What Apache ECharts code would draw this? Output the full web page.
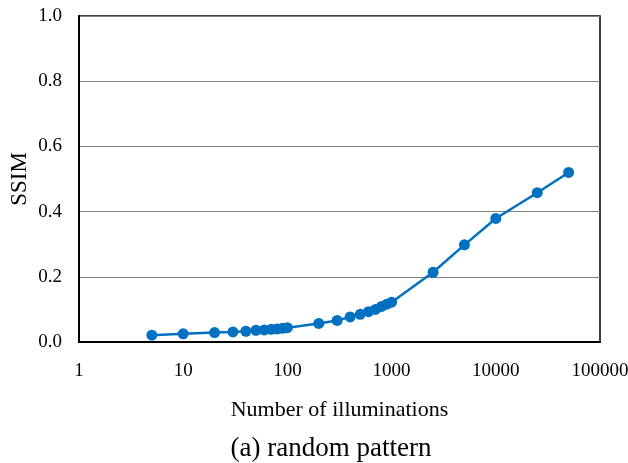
<!DOCTYPE html>
<html>
<head>
<meta charset="utf-8">
<script src="https://cdn.jsdelivr.net/npm/echarts@6/dist/echarts.min.js"></script>
<style>
html,body{margin:0;padding:0;background:#fff;}
#chart{width:628px;height:463px;}
</style>
</head>
<body>
<div id="chart"></div>
<script>
const illuminations = [5, 10, 20, 30, 40, 50, 60, 70, 80, 90, 100, 200, 300, 400, 500, 600, 700, 800, 900, 1000, 2500, 5000, 10000, 25000, 50000];
const ssim = [0.021, 0.025, 0.029, 0.031, 0.033, 0.036, 0.037, 0.039, 0.040, 0.042, 0.044, 0.057, 0.066, 0.077, 0.085, 0.093, 0.100, 0.109, 0.116, 0.122, 0.214, 0.298, 0.379, 0.458, 0.520];
const xAxisName = 'Number of illuminations';
const yAxisName = 'SSIM';
const caption = '(a) random pattern';

const font = '"Liberation Serif", "Times New Roman", serif';
const chart = echarts.init(document.getElementById('chart'), null, {renderer: 'canvas'});
chart.setOption({
  animation: false,
  backgroundColor: '#ffffff',
  title: {
    text: caption,
    left: 326, top: 430,
    textAlign: 'center',
    textStyle: {fontFamily: font, fontSize: 27, fontWeight: 'normal', color: '#000'}
  },
  grid: {
    left: 79, right: 28, top: 16, bottom: 121,
    containLabel: false, outerBoundsMode: 'none',
    show: true, borderColor: '#000', borderWidth: 1.5, backgroundColor: 'transparent'
  },
  xAxis: {
    type: 'log', logBase: 10, min: 1, max: 100000,
    name: xAxisName, nameLocation: 'middle', nameGap: 57, nameMoveOverlap: false,
    nameTextStyle: {fontFamily: font, fontSize: 22, color: '#000'},
    axisLine: {show: true, lineStyle: {color: '#000', width: 2}},
    axisTick: {show: false},
    splitLine: {show: false},
    minorTick: {show: false},
    axisLabel: {fontFamily: font, fontSize: 19, color: '#000', margin: 20,
      formatter: v => String(Math.round(v))}
  },
  yAxis: {
    type: 'value', min: 0, max: 1, interval: 0.2,
    name: yAxisName, nameLocation: 'middle', nameGap: 48, nameRotate: 90, nameMoveOverlap: false,
    nameTextStyle: {fontFamily: font, fontSize: 23, color: '#000'},
    axisLine: {show: true, lineStyle: {color: '#000', width: 2}},
    axisTick: {show: false},
    splitLine: {show: true, lineStyle: {color: '#808080', width: 1.2}},
    axisLabel: {fontFamily: font, fontSize: 19, color: '#000', margin: 17,
      formatter: v => v.toFixed(1)}
  },
  series: [{
    type: 'line',
    data: illuminations.map((x, i) => [x, ssim[i]]),
    symbol: 'circle', symbolSize: 11,
    itemStyle: {color: '#0070C0'},
    lineStyle: {color: '#0070C0', width: 2.5}
  }]
});
</script>
</body>
</html>
